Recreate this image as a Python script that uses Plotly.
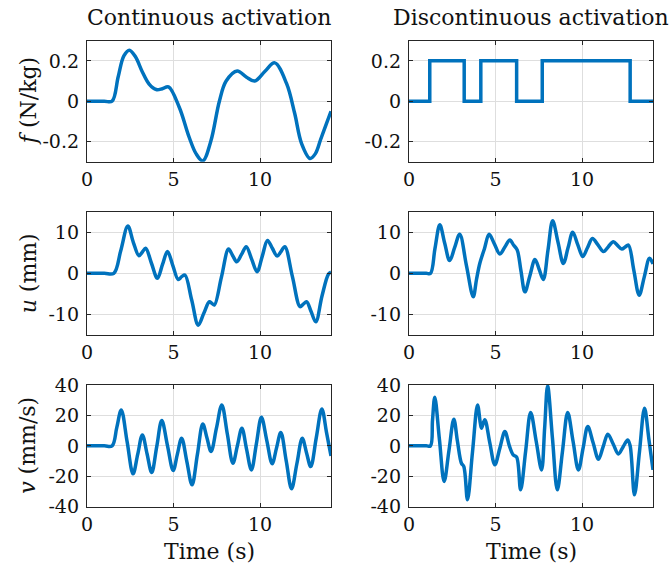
import plotly.graph_objects as go

# ---------------- data ----------------
t_f_cont = [0, 1.0, 1.45, 1.8, 2.13, 2.45, 2.8, 3.2, 3.59, 4.0, 4.35, 4.71, 5.33, 5.91, 6.3, 6.69,
            7.15, 7.65, 8.04, 8.68, 9.2, 9.69, 10.3, 10.85, 11.53, 12.0, 12.4, 12.89, 13.2, 13.5,
            13.8, 14.1]
f_cont = [0, 0, 0, 0.12, 0.225, 0.253, 0.22, 0.145, 0.085, 0.058, 0.062, 0.071, -0.03, -0.18, -0.26,
          -0.296, -0.2, 0.0, 0.10, 0.150, 0.12, 0.10, 0.15, 0.19, 0.088, -0.06, -0.21, -0.284, -0.26,
          -0.19, -0.12, -0.05]

t_f_disc = [0, 1.2, 3.19, 4.15, 6.22, 7.70, 12.78, 14.1]
f_disc = [0, 0.2, 0, 0.2, 0, 0.2, 0, 0]

t_u_cont = [0, 1.0, 1.55, 1.95, 2.36, 2.68, 3.0, 3.2, 3.39, 3.73, 4.07, 4.36, 4.65, 4.96, 5.27, 5.47,
            5.66, 6.05, 6.43, 6.75, 7.07, 7.22, 7.36, 7.77, 8.18, 8.42, 8.66, 8.93, 9.2, 9.52, 9.83,
            10.13, 10.43, 10.71, 10.99, 11.21, 11.43, 11.87, 12.31, 12.5, 12.69, 12.95, 13.22, 13.58,
            13.95, 14.1]
u_cont = [0, 0, 0, 5.5, 11.5, 7.5, 4.3, 5.2, 6.1, 2.4, -1.2, 2.1, 5.3, 1.9, -1.5, -0.8,
          -0.4, -6.5, -12.6, -9.7, -6.9, -7.3, -7.7, -0.9, 5.9, 4.3, 2.8, 4.6, 6.5, 3.4, 0.4,
          4.2, 8.0, 6.1, 4.2, 5.3, 6.5, -0.8, -8.1, -7.5, -6.9, -9.3, -11.8, -5.5,
          -0.2, 0.3]

t_u_disc = [0, 1.0, 1.24, 1.5, 1.78, 2.06, 2.35, 2.64, 2.93, 3.32, 3.71, 3.9, 4.09, 4.36, 4.63, 4.94,
            5.25, 5.54, 5.83, 6.04, 6.25, 6.47, 6.7, 6.99, 7.28, 7.52, 7.76, 8.03, 8.3, 8.61, 8.92,
            9.19, 9.46, 9.75, 10.04, 10.32, 10.6, 10.92, 11.24, 11.52, 11.81, 12.05, 12.3, 12.49,
            12.68, 12.99, 13.3, 13.6, 13.9, 14.1]
u_disc = [0, 0, 0, 6, 11.8, 7.4, 3.1, 6.3, 9.5, 1.9, -5.7, -1.5, 2.4, 6, 9.5, 7.1,
          4.7, 6.4, 8.1, 6.9, 5.7, 0.6, -4.5, -0.5, 3.4, 1, -1.5, 5.6, 12.8, 7.6, 2.4,
          6.2, 10, 7.0, 4.1, 6.3, 8.5, 6.9, 5.3, 6.5, 7.7, 6.8, 5.9, 6.4,
          6.9, 0.8, -5.3, -0.8, 3.7, 2.3]

t_v_cont = [0, 1.0, 1.45, 1.72, 1.98, 2.32, 2.66, 2.93, 3.2, 3.47, 3.74, 4.03, 4.32, 4.65, 4.98, 5.22,
            5.47, 5.77, 6.07, 6.38, 6.69, 6.93, 7.17, 7.48, 7.79, 8.11, 8.43, 8.69, 8.95, 9.22, 9.5,
            9.79, 10.08, 10.39, 10.7, 10.95, 11.2, 11.51, 11.82, 12.13, 12.44, 12.68, 12.93, 13.25,
            13.57, 13.84, 14.1]
v_cont = [0, 0, 0, 12, 23.6, 2.6, -18.4, -5.6, 7.2, -5.2, -17.5, -0.5, 16.6, 0.2, -16.2, -5.6,
          5.0, -10.3, -25.6, -5.6, 14.4, 5.4, -3.7, 11.6, 26.9, 7.8, -11.4, 0.1, 11.6, -2.1, -15.8,
          1.5, 18.8, 3.5, -11.8, -1.5, 8.8, -9.7, -28.2, -11.6, 5.0, -4.3, -13.6, 5.4,
          24.3, 8.9, -6.6]

t_v_disc = [0, 1.0, 1.24, 1.36, 1.49, 1.76, 2.03, 2.31, 2.59, 2.8, 3.03, 3.17, 3.38, 3.67, 3.96, 4.12,
            4.19, 4.38, 4.67, 4.96, 5.25, 5.54, 5.8, 6.02, 6.22, 6.45, 6.74, 7.03, 7.35, 7.66, 7.84,
            8.01, 8.29, 8.57, 8.87, 9.17, 9.48, 9.79, 10.06, 10.33, 10.64, 10.95, 11.22, 11.49, 11.8,
            12.1, 12.37, 12.64, 12.78, 13.03, 13.32, 13.61, 13.86, 14.1]
v_disc = [0, 0, 0, 17, 32, 4, -23.4, -3, 17.5, 3, -11.4, -13.6, -35.4, -4, 26.9, 15,
          11.6, 17.1, 2, -12.5, -1.5, 9.4, 0, -5.9, -7.4, -28.9, -3.5, 21.9, 3, -15.8, 12,
          39.4, 5, -28.9, -3.5, 21.9, 3, -15.8, -1.5, 12.7, 2, -8.8, -0.5, 7.7, 1.2,
          -5.3, -0.7, 3.9, 0, -32.2, -3.7, 24.7, 4.5, -15.8]

x_ticks = [0, 5, 10]
x_ticktext = ["0", "5", "10"]
f_ticks = [-0.2, 0, 0.2]
f_ticktext = ["-0.2", "0", "0.2"]
u_ticks = [-10, 0, 10]
u_ticktext = ["-10", "0", "10"]
v_ticks = [-40, -20, 0, 20, 40]
v_ticktext = ["-40", "-20", "0", "20", "40"]

col_titles = ["Continuous activation", "Discontinuous activation"]
row_labels = ["<i>f</i> (N/kg)", "<i>u</i> (mm)", "<i>v</i> (mm/s)"]
x_label = "Time (s)"

# ---------------- figure ----------------
W, H = 670, 570
BLUE = "#0072BD"
FONT = "DejaVu Serif"
TXT = "#111111"

col_px = [(87, 331), (409, 653)]
row_px = [(40.7, 161.7), (211.7, 335.0), (385.0, 506.7)]

panels = [
    (t_f_cont, f_cont, "spline", [-0.3, 0.3], f_ticks, f_ticktext),
    (t_f_disc, f_disc, "hv", [-0.3, 0.3], f_ticks, f_ticktext),
    (t_u_cont, u_cont, "spline", [-15, 15], u_ticks, u_ticktext),
    (t_u_disc, u_disc, "spline", [-15, 15], u_ticks, u_ticktext),
    (t_v_cont, v_cont, "spline", [-40, 40], v_ticks, v_ticktext),
    (t_v_disc, v_disc, "spline", [-40, 40], v_ticks, v_ticktext),
]

fig = go.Figure()
layout = dict(
    template="none",
    width=W, height=H, margin=dict(l=0, r=0, t=0, b=0, pad=0, autoexpand=False),
    paper_bgcolor="white", plot_bgcolor="white", showlegend=False,
    font=dict(family=FONT, size=19, color=TXT),
)

for i, (tx, ty, shape, yr, yt, ytt) in enumerate(panels):
    r, c = divmod(i, 2)
    n = "" if i == 0 else str(i + 1)
    line = dict(color=BLUE, width=3.5, shape=shape)
    if shape == "spline":
        line["smoothing"] = 1.0
    fig.add_trace(go.Scatter(x=tx, y=ty, mode="lines", line=line,
                             xaxis="x" + n, yaxis="y" + n, hoverinfo="skip"))
    x0, x1 = col_px[c]
    y0, y1 = row_px[r]
    common = dict(showline=True, linecolor="#262626", linewidth=1.3, mirror="allticks",
                  ticks="inside", ticklen=4, tickwidth=1, tickcolor="#262626",
                  showgrid=True, gridcolor="#dedede", gridwidth=1, zeroline=False,
                  automargin=False,
                  tickfont=dict(family=FONT, size=19, color=TXT))
    layout["xaxis" + n] = dict(common, domain=[x0 / W, x1 / W], range=[0, 14.1],
                               tickvals=x_ticks, ticktext=x_ticktext,
                               anchor="y" + n, ticklabelstandoff=0)
    layout["yaxis" + n] = dict(common, domain=[1 - y1 / H, 1 - y0 / H], range=yr,
                               tickvals=yt, ticktext=ytt, anchor="x" + n,
                               ticklabelstandoff=3)

ann = []
for c, title in enumerate(col_titles):
    xc = (col_px[c][0] + col_px[c][1]) / 2 / W
    ann.append(dict(text=title, x=xc, y=1 - 18 / H, xref="paper", yref="paper",
                    showarrow=False, xanchor="center", yanchor="middle",
                    font=dict(family=FONT, size=22, color=TXT)))
    ann.append(dict(text=x_label, x=xc, y=1 - 551 / H, xref="paper", yref="paper",
                    showarrow=False, xanchor="center", yanchor="middle",
                    font=dict(family=FONT, size=22, color=TXT)))
for r, lab in enumerate(row_labels):
    yc = 1 - (row_px[r][0] + row_px[r][1]) / 2 / H
    ann.append(dict(text=lab, x=28 / W, y=yc, xref="paper", yref="paper", textangle=-90,
                    showarrow=False, xanchor="center", yanchor="middle",
                    font=dict(family=FONT, size=22, color=TXT)))
layout["annotations"] = ann

fig.update_layout(**layout)
fig.write_html("out.html")
